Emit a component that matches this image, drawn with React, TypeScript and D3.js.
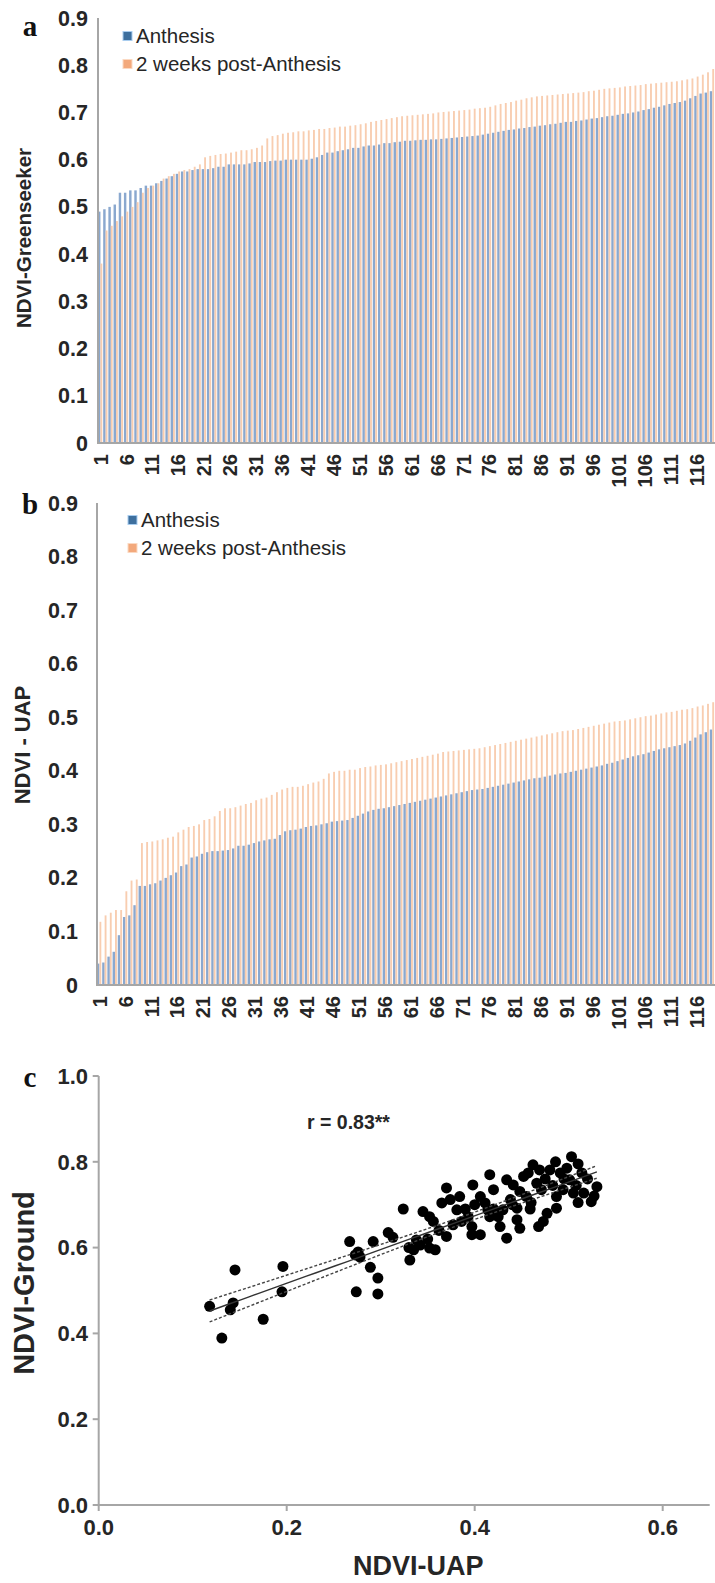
import React from 'react';
import * as d3 from 'd3';

// ---------- DATA ----------
const plots: number[] = d3.range(1, 120);

const greenAnthesis: number[] = [
  0.490, 0.495, 0.500, 0.505, 0.530, 0.530, 0.535, 0.535, 0.540, 0.545,
  0.545, 0.550, 0.555, 0.560, 0.565, 0.570, 0.575, 0.575, 0.578, 0.580,
  0.580, 0.580, 0.582, 0.585, 0.585, 0.590, 0.590, 0.590, 0.590, 0.592,
  0.595, 0.595, 0.595, 0.597, 0.598, 0.598, 0.600, 0.600, 0.600, 0.600,
  0.600, 0.602, 0.605, 0.610, 0.615, 0.615, 0.618, 0.620, 0.622, 0.625,
  0.625, 0.628, 0.630, 0.630, 0.632, 0.635, 0.635, 0.637, 0.638, 0.640,
  0.640, 0.641, 0.642, 0.642, 0.643, 0.643, 0.644, 0.645, 0.646, 0.647,
  0.648, 0.649, 0.650, 0.651, 0.653, 0.655, 0.657, 0.659, 0.661, 0.663,
  0.664, 0.666, 0.667, 0.669, 0.670, 0.672, 0.673, 0.675, 0.676, 0.678,
  0.680, 0.680, 0.682, 0.683, 0.685, 0.687, 0.688, 0.690, 0.692, 0.693,
  0.695, 0.697, 0.698, 0.700, 0.702, 0.705, 0.707, 0.710, 0.712, 0.715,
  0.718, 0.720, 0.722, 0.725, 0.730, 0.735, 0.740, 0.742, 0.745,
];

const greenPost: number[] = [
  0.380, 0.450, 0.460, 0.470, 0.480, 0.490, 0.500, 0.510, 0.530, 0.540,
  0.545, 0.550, 0.560, 0.565, 0.570, 0.575, 0.578, 0.580, 0.585, 0.590,
  0.605, 0.608, 0.610, 0.612, 0.613, 0.615, 0.617, 0.620, 0.620, 0.622,
  0.625, 0.630, 0.645, 0.650, 0.652, 0.655, 0.657, 0.658, 0.660, 0.660,
  0.662, 0.663, 0.665, 0.665, 0.667, 0.668, 0.670, 0.670, 0.672, 0.673,
  0.675, 0.677, 0.680, 0.682, 0.684, 0.686, 0.688, 0.690, 0.692, 0.693,
  0.694, 0.695, 0.696, 0.697, 0.698, 0.700, 0.701, 0.702, 0.703, 0.704,
  0.705, 0.706, 0.708, 0.709, 0.710, 0.712, 0.715, 0.718, 0.720, 0.722,
  0.725, 0.727, 0.730, 0.732, 0.734, 0.735, 0.736, 0.737, 0.738, 0.739,
  0.740, 0.741, 0.742, 0.743, 0.745, 0.746, 0.748, 0.750, 0.751, 0.752,
  0.753, 0.755, 0.756, 0.757, 0.758, 0.760, 0.761, 0.762, 0.763, 0.764,
  0.765, 0.766, 0.768, 0.770, 0.772, 0.776, 0.780, 0.785, 0.792,
];

const uapAnthesis: number[] = [
  0.040, 0.042, 0.053, 0.062, 0.093, 0.127, 0.130, 0.149, 0.185, 0.185,
  0.188, 0.190, 0.195, 0.200, 0.205, 0.210, 0.222, 0.225, 0.238, 0.240,
  0.245, 0.248, 0.250, 0.250, 0.251, 0.252, 0.255, 0.260, 0.260, 0.262,
  0.265, 0.268, 0.270, 0.272, 0.273, 0.280, 0.287, 0.289, 0.290, 0.292,
  0.295, 0.297, 0.298, 0.300, 0.302, 0.305, 0.306, 0.307, 0.308, 0.312,
  0.316, 0.320, 0.324, 0.327, 0.329, 0.330, 0.332, 0.334, 0.336, 0.338,
  0.340, 0.342, 0.344, 0.346, 0.348, 0.350, 0.352, 0.354, 0.356, 0.358,
  0.360, 0.362, 0.364, 0.365, 0.366, 0.368, 0.370, 0.372, 0.374, 0.376,
  0.378, 0.380, 0.382, 0.384, 0.386, 0.387, 0.389, 0.391, 0.393, 0.395,
  0.396, 0.398, 0.400, 0.402, 0.404, 0.406, 0.408, 0.410, 0.413, 0.415,
  0.418, 0.421, 0.424, 0.427, 0.429, 0.431, 0.434, 0.437, 0.440, 0.442,
  0.444, 0.446, 0.448, 0.451, 0.456, 0.462, 0.468, 0.472, 0.477,
];

const uapPost: number[] = [
  0.118, 0.130, 0.135, 0.140, 0.140, 0.175, 0.195, 0.197, 0.265, 0.267,
  0.268, 0.270, 0.272, 0.275, 0.277, 0.285, 0.290, 0.295, 0.297, 0.300,
  0.308, 0.310, 0.315, 0.325, 0.330, 0.330, 0.332, 0.335, 0.338, 0.340,
  0.345, 0.348, 0.350, 0.355, 0.360, 0.365, 0.368, 0.370, 0.370, 0.372,
  0.375, 0.378, 0.380, 0.385, 0.395, 0.398, 0.400, 0.400, 0.402, 0.402,
  0.405, 0.407, 0.408, 0.410, 0.411, 0.412, 0.414, 0.416, 0.418, 0.420,
  0.422, 0.424, 0.426, 0.428, 0.430, 0.432, 0.435, 0.436, 0.437, 0.438,
  0.439, 0.440, 0.441, 0.442, 0.444, 0.446, 0.448, 0.450, 0.452, 0.454,
  0.456, 0.458, 0.460, 0.462, 0.464, 0.466, 0.468, 0.470, 0.472, 0.474,
  0.475, 0.476, 0.478, 0.480, 0.482, 0.484, 0.486, 0.488, 0.490, 0.492,
  0.493, 0.494, 0.496, 0.498, 0.500, 0.502, 0.503, 0.505, 0.507, 0.509,
  0.510, 0.512, 0.514, 0.515, 0.517, 0.520, 0.522, 0.525, 0.528,
];

const barYTicks: number[] = [0, 0.1, 0.2, 0.3, 0.4, 0.5, 0.6, 0.7, 0.8, 0.9];
const barXTicks: number[] = [1, 6, 11, 16, 21, 26, 31, 36, 41, 46, 51, 56, 61, 66, 71, 76, 81, 86, 91, 96, 101, 106, 111, 116];
const seriesNames: string[] = ['Anthesis', '2 weeks post-Anthesis'];

const scatterUAP: number[] = [
  0.118, 0.131, 0.145, 0.143, 0.140, 0.175, 0.196, 0.195, 0.267, 0.274,
  0.273, 0.278, 0.276, 0.289, 0.297, 0.297, 0.292, 0.308, 0.313, 0.324,
  0.331, 0.335, 0.338, 0.342, 0.345, 0.352, 0.356, 0.352, 0.358, 0.370,
  0.370, 0.365, 0.374, 0.381, 0.384, 0.377, 0.386, 0.397, 0.397, 0.406,
  0.398, 0.406, 0.416, 0.411, 0.414, 0.416, 0.425, 0.430, 0.427, 0.434,
  0.434, 0.441, 0.438, 0.445, 0.452, 0.457, 0.448, 0.455, 0.445, 0.448,
  0.462, 0.469, 0.466, 0.471, 0.473, 0.468, 0.477, 0.480, 0.491, 0.498,
  0.487, 0.494, 0.487, 0.501, 0.505, 0.514, 0.516, 0.524, 0.503, 0.486,
  0.510, 0.520, 0.530, 0.527, 0.495, 0.460, 0.420, 0.400, 0.390, 0.362,
  0.393, 0.420, 0.440, 0.459, 0.475, 0.483, 0.508, 0.510, 0.350, 0.330,
];
const scatterGround: number[] = [
  0.463, 0.389, 0.548, 0.471, 0.455, 0.433, 0.556, 0.497, 0.614, 0.497,
  0.583, 0.578, 0.590, 0.554, 0.529, 0.492, 0.614, 0.635, 0.624, 0.690,
  0.571, 0.595, 0.618, 0.606, 0.684, 0.672, 0.661, 0.599, 0.595, 0.739,
  0.626, 0.704, 0.712, 0.688, 0.719, 0.653, 0.661, 0.649, 0.630, 0.630,
  0.746, 0.719, 0.770, 0.704, 0.688, 0.672, 0.672, 0.688, 0.649, 0.622,
  0.758, 0.746, 0.712, 0.692, 0.766, 0.774, 0.731, 0.719, 0.665, 0.645,
  0.793, 0.781, 0.750, 0.735, 0.661, 0.649, 0.680, 0.781, 0.774, 0.785,
  0.719, 0.735, 0.692, 0.758, 0.727, 0.774, 0.727, 0.707, 0.812, 0.800,
  0.795, 0.760, 0.742, 0.720, 0.760, 0.705, 0.735, 0.700, 0.690, 0.640,
  0.672, 0.690, 0.700, 0.690, 0.760, 0.745, 0.745, 0.705, 0.620, 0.600,
];
const scatterXTicks: number[] = [0, 0.2, 0.4, 0.6];
const scatterYTicks: number[] = [0, 0.2, 0.4, 0.6, 0.8, 1.0];

// ---------- STYLE ----------
const SANS = '"Liberation Sans", Arial, Helvetica, sans-serif';
const SERIF = '"Liberation Serif", "Times New Roman", serif';
const AXIS = '#a6a6a6';
const TXT = '#262626';
const BLUE_BAR = '#8aa8cf';
const ORANGE_BAR = '#f8cdb0';
const BLUE_KEY = '#3d6f9e';
const ORANGE_KEY = '#f3a97c';

type BarPanelProps = {
  letter: string;
  yLabel: string;
  a: number[];
  p: number[];
  top: number;
  bottom: number;
  left: number;
  tickRight: number;
  yLabelX: number;
  yLabelY: number;
  yLabelSize: number;
  legendY: number;
  legendX: number;
  letterY: number;
};

function BarPanel(props: BarPanelProps) {
  const { letter, yLabel, a, p, top, bottom, left, tickRight, yLabelX, yLabelY, yLabelSize, legendY, legendX, letterY } = props;
  const x = d3.scaleBand<number>().domain(plots).range([left, 715]).paddingInner(0).paddingOuter(0);
  const y = d3.scaleLinear().domain([0, 0.9]).range([bottom, top]);
  const step = x.step();
  const wa = step * 0.47;
  const wp = step * 0.36;
  return (
    <g>
      <text x={30} y={letterY} fontFamily={SERIF} fontWeight="bold" fontSize={29} textAnchor="middle" fill="#111">{letter}</text>
      {plots.map((c, i) => (
        <g key={c}>
          <rect x={x(c)!} y={y(a[i])} width={wa} height={y(0) - y(a[i])} fill={BLUE_BAR} />
          <rect x={x(c)! + wa} y={y(p[i])} width={wp} height={y(0) - y(p[i])} fill={ORANGE_BAR} />
        </g>
      ))}
      <line x1={left} x2={left} y1={top} y2={bottom + 1} stroke={AXIS} strokeWidth={2} />
      <line x1={left} x2={715} y1={bottom} y2={bottom} stroke={AXIS} strokeWidth={2} />
      {barYTicks.map((t) => (
        <text key={t} x={tickRight} y={y(t)} dy="0.35em" textAnchor="end" fontFamily={SANS} fontWeight="bold" fontSize={21.5} fill={TXT}>
          {t === 0 ? '0' : d3.format('.1f')(t)}
        </text>
      ))}
      {barXTicks.map((t) => (
        <text key={t} transform={`translate(${x(t)! + step / 2},${bottom + 11}) rotate(-90)`} dy="0.35em" textAnchor="end" fontFamily={SANS} fontWeight="bold" fontSize={20} fill={TXT}>
          {t}
        </text>
      ))}
      <text transform={`translate(${yLabelX},${yLabelY}) rotate(-90)`} dy="0.35em" textAnchor="middle" fontFamily={SANS} fontWeight="bold" fontSize={yLabelSize} fill={TXT}>
        {yLabel}
      </text>
      {seriesNames.map((s, i) => (
        <g key={s}>
          <rect x={legendX} y={legendY + i * 28 - 4.5} width={9} height={9} fill={i === 0 ? BLUE_KEY : ORANGE_KEY} stroke={i === 0 ? '#a9cdef' : '#fbd9c2'} strokeWidth={1} />
          <text x={legendX + 13} y={legendY + i * 28} dy="0.35em" fontFamily={SANS} fontSize={20.5} fill={TXT}>{s}</text>
        </g>
      ))}
    </g>
  );
}

function ScatterPanel() {
  const x = d3.scaleLinear().domain([0, 0.65]).range([98.7, 709.7]);
  const y = d3.scaleLinear().domain([0, 1.0]).range([1505, 1076]);
  const pts = scatterUAP.map((u, i) => ({ u, g: scatterGround[i] }));
  const n = pts.length;
  const mx = d3.mean(scatterUAP)!;
  const my = d3.mean(scatterGround)!;
  const sxx = d3.sum(pts, (d) => (d.u - mx) ** 2);
  const sxy = d3.sum(pts, (d) => (d.u - mx) * (d.g - my));
  const b = sxy / sxx;
  const a0 = my - b * mx;
  const sse = d3.sum(pts, (d) => (d.g - (a0 + b * d.u)) ** 2);
  const se = Math.sqrt(sse / (n - 2));
  const [xmin, xmax] = d3.extent(scatterUAP) as [number, number];
  const xs = d3.range(xmin, xmax + 1e-9, (xmax - xmin) / 40);
  const half = (v: number) => 1.984 * se * Math.sqrt(1 / n + (v - mx) ** 2 / sxx);
  const line = d3.line<number[]>().x((d) => x(d[0])).y((d) => y(d[1]));
  const fit = xs.map((v) => [v, a0 + b * v]);
  const up = xs.map((v) => [v, a0 + b * v + half(v)]);
  const lo = xs.map((v) => [v, a0 + b * v - half(v)]);
  return (
    <g>
      <text x={30} y={1087} fontFamily={SERIF} fontWeight="bold" fontSize={29} textAnchor="middle" fill="#111">c</text>
      <line x1={x(0)} x2={x(0)} y1={y(1)} y2={y(0)} stroke={AXIS} strokeWidth={2} />
      <line x1={x(0)} x2={x(0.65)} y1={y(0)} y2={y(0)} stroke={AXIS} strokeWidth={2} />
      {scatterYTicks.map((t) => (
        <g key={t}>
          <line x1={x(0) - 6} x2={x(0)} y1={y(t)} y2={y(t)} stroke={AXIS} strokeWidth={2} />
          <text x={88} y={y(t)} dy="0.35em" textAnchor="end" fontFamily={SANS} fontWeight="bold" fontSize={22} fill={TXT}>{d3.format('.1f')(t)}</text>
        </g>
      ))}
      {scatterXTicks.map((t) => (
        <g key={t}>
          <line x1={x(t)} x2={x(t)} y1={y(0)} y2={y(0) + 6} stroke={AXIS} strokeWidth={2} />
          <text x={x(t)} y={1527} dy="0.35em" textAnchor="middle" fontFamily={SANS} fontWeight="bold" fontSize={22} fill={TXT}>{d3.format('.1f')(t)}</text>
        </g>
      ))}
      {pts.map((d, i) => (
        <circle key={i} cx={x(d.u)} cy={y(d.g)} r={5.5} fill="#000" />
      ))}
      <path d={line(fit)!} fill="none" stroke="#333" strokeWidth={1.4} />
      <path d={line(up)!} fill="none" stroke="#444" strokeWidth={1.4} strokeDasharray="3,2" />
      <path d={line(lo)!} fill="none" stroke="#444" strokeWidth={1.4} strokeDasharray="3,2" />
      <text x={307} y={1122} dy="0.35em" fontFamily={SANS} fontWeight="bold" fontSize={19.5} fill={TXT}>r = 0.83**</text>
      <text x={353} y={1566} dy="0.35em" fontFamily={SANS} fontWeight="bold" fontSize={27} fill={TXT}>NDVI-UAP</text>
      <text transform={`translate(24,1283) rotate(-90)`} dy="0.35em" textAnchor="middle" fontFamily={SANS} fontWeight="bold" fontSize={29} fill={TXT}>NDVI-Ground</text>
    </g>
  );
}

export default function App() {
  return (
    <svg width={715} height={1583} style={{ position: 'absolute', left: 0, top: 0, background: '#fff' }}>
      <rect x={0} y={0} width={715} height={1583} fill="#fff" />
      <BarPanel letter="a" yLabel="NDVI-Greenseeker" a={greenAnthesis} p={greenPost} top={18} bottom={443} left={98}
        tickRight={88} yLabelX={24} yLabelY={238} yLabelSize={20.5} legendX={123} legendY={36} letterY={36} />
      <BarPanel letter="b" yLabel="NDVI - UAP" a={uapAnthesis} p={uapPost} top={503} bottom={985} left={97}
        tickRight={78} yLabelX={22} yLabelY={745} yLabelSize={22} legendX={128} legendY={520} letterY={514} />
      <ScatterPanel />
    </svg>
  );
}
